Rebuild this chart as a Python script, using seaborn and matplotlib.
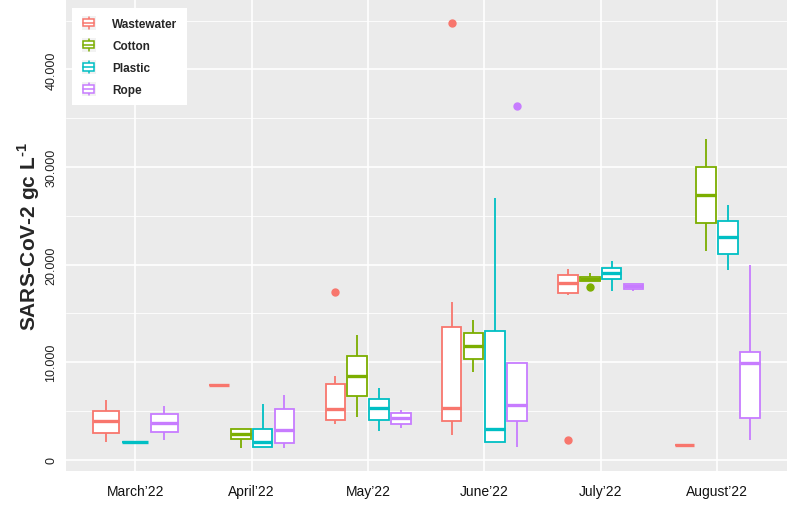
import matplotlib
matplotlib.use('Agg')
import matplotlib.pyplot as plt
from matplotlib.ticker import MultipleLocator, FuncFormatter
from matplotlib.legend_handler import HandlerBase
from matplotlib.patches import Patch, Rectangle
from matplotlib.lines import Line2D
import seaborn as sns
import pandas as pd

months = ["March’22", "April’22", "May’22", "June’22", "July’22", "August’22"]
sites = ['Wastewater', 'Cotton', 'Plastic', 'Rope']
site_colors = ['#F8766D', '#7CAE00', '#00BFC4', '#C77CFF']

# gc/L per month (groups missing in a month are left out)
wastewater = {
    "March’22": [1780, 2800, 3930, 5015, 6110],
    "April’22": [7680],
    "May’22": [3650, 3900, 4060, 4600, 5190, 6500, 7820, 8600, 17240],
    "June’22": [2560, 3300, 3960, 4700, 5360, 9500, 13580, 16210, 44770],
    "July’22": [2020, 16930, 17130, 17600, 18160, 18500, 18900, 19200, 19520],
    "August’22": [1500],
}
cotton = {
    "April’22": [1230, 2120, 2630, 3170, 3200],
    "May’22": [4440, 6520, 8600, 10680, 12760],
    "June’22": [8950, 10310, 11640, 13000, 14300],
    "July’22": [17700, 18360, 18360, 18450, 18570, 18650, 18730, 18900, 19110],
    "August’22": [21390, 24260, 27090, 29990, 32820],
}
plastic = {
    "March’22": [1810, 1810, 1810],
    "April’22": [1300, 1300, 1780, 3170, 5770],
    "May’22": [2970, 4090, 5290, 6280, 7310],
    "June’22": [1880, 1880, 3210, 13200, 26860],
    "July’22": [17300, 18530, 19180, 19690, 20410],
    "August’22": [19420, 21080, 22820, 24500, 26100],
}
rope = {
    "March’22": [2050, 2870, 3790, 4680, 5530],
    "April’22": [1170, 1710, 3110, 5220, 6650],
    "May’22": [3280, 3650, 4240, 4750, 5090],
    "June’22": [1270, 2600, 3930, 4800, 5570, 7800, 9970, 9970, 36230],
    "July’22": [17300, 17540, 17810, 18010, 18010],
    "August’22": [2050, 4270, 9930, 11020, 19960],
}
site_data = dict(zip(sites, [wastewater, cotton, plastic, rope]))
pal = dict(zip(sites, site_colors))

rows = []
for site, per_month in site_data.items():
    for month, vals in per_month.items():
        for v in vals:
            rows.append({'month': month, 'site': site, 'value': v})
df = pd.DataFrame(rows)

sns.set_theme(style='darkgrid', rc={
    'axes.facecolor': '#EBEBEB',
    'grid.color': 'white',
})
plt.rcParams['font.family'] = ['Liberation Sans', 'DejaVu Sans']
# only the y label uses mathtext, so bold roman is fine here
plt.rcParams['mathtext.fontset'] = 'custom'
plt.rcParams['mathtext.rm'] = 'Liberation Sans:bold'
plt.rcParams['mathtext.bf'] = 'Liberation Sans:bold'

fig, ax = plt.subplots(figsize=(7.9, 5.06), dpi=100)
fig.subplots_adjust(left=0.083, right=0.996, bottom=0.067, top=0.998)

# one call per month/site so that each month only splits among the sites it has
for month in months:
    present = [s for s in sites if month in site_data[s]]
    for site in present:
        sub = df[(df.month == month) & (df.site == site)]
        c = pal[site]
        sns.boxplot(data=sub, x='month', y='value', hue='site', order=months,
                    hue_order=present, palette={p: 'white' for p in present},
                    linecolor=c, width=0.75, gap=0.1, dodge=True, linewidth=1.3,
                    showcaps=False, legend=False, ax=ax,
                    medianprops=dict(linewidth=2.4, color=c),
                    flierprops=dict(marker='o', markerfacecolor=c,
                                    markeredgecolor=c, markersize=5))

ax.set_xlim(-0.6, 5.6)
ax.set_ylim(-1150, 47100)
ax.set_xlabel('')
ax.set_ylabel('SARS-CoV-2 gc $\\mathrm{L}^{\\text{-1}}$', fontsize=15,
              fontweight='bold', labelpad=2)
ax.set_yticks([0, 10000, 20000, 30000, 40000])
ax.yaxis.set_minor_locator(MultipleLocator(5000))
ax.yaxis.set_major_formatter(FuncFormatter(lambda v, p: f'{int(v):,}'.replace(',', '.')))
ax.set_axisbelow(True)
ax.xaxis.grid(True, color='white', linewidth=1.2)
ax.yaxis.grid(True, which='major', color='white', linewidth=1.2)
ax.yaxis.grid(True, which='minor', color='white', linewidth=0.6)
ax.tick_params(axis='y', which='major', labelsize=9, labelrotation=90, length=3,
               width=0.8, color='#333333', labelcolor='#222222', pad=3)
ax.tick_params(axis='y', which='minor', length=0)
ax.tick_params(axis='x', labelsize=10, length=3, width=0.8, color='#333333',
               labelcolor='#111111', pad=6)
for lbl in ax.get_yticklabels():
    lbl.set_verticalalignment('center')
for s in ax.spines.values():
    s.set_visible(False)


class BoxKey(HandlerBase):
    def create_artists(self, legend, orig_handle, xdescent, ydescent,
                       width, height, fontsize, trans):
        c = orig_handle.get_edgecolor()
        cx = width / 2 - xdescent
        y0 = -ydescent
        bg = Rectangle((-xdescent, y0 - 0.3 * height), width, 1.6 * height,
                       facecolor='#F2F2F2', edgecolor='none', transform=trans)
        whisk = Line2D([cx, cx], [y0 - 0.2 * height, y0 + 1.2 * height],
                       color=c, lw=1.1, transform=trans)
        box = Rectangle((-xdescent + 0.1 * width, y0 + 0.1 * height), 0.8 * width,
                        0.8 * height, facecolor='white', edgecolor=c, lw=1.1,
                        transform=trans)
        med = Line2D([-xdescent + 0.1 * width, -xdescent + 0.9 * width],
                     [y0 + 0.5 * height] * 2, color=c, lw=1.1, transform=trans)
        return [bg, whisk, box, med]


handles = [Patch(facecolor='white', edgecolor=pal[s]) for s in sites]
leg = ax.legend(handles, sites, loc='upper left', bbox_to_anchor=(0.009, 0.982),
                frameon=True, facecolor='white', edgecolor='none', framealpha=1,
                fancybox=False, prop={'weight': 'bold', 'size': 8.5},
                handler_map={Patch: BoxKey()}, handlelength=1.2, handleheight=0.8,
                handletextpad=1.4, labelspacing=0.85, borderpad=0.8,
                borderaxespad=0)

plt.savefig('out.png', dpi=100)
plt.close()
